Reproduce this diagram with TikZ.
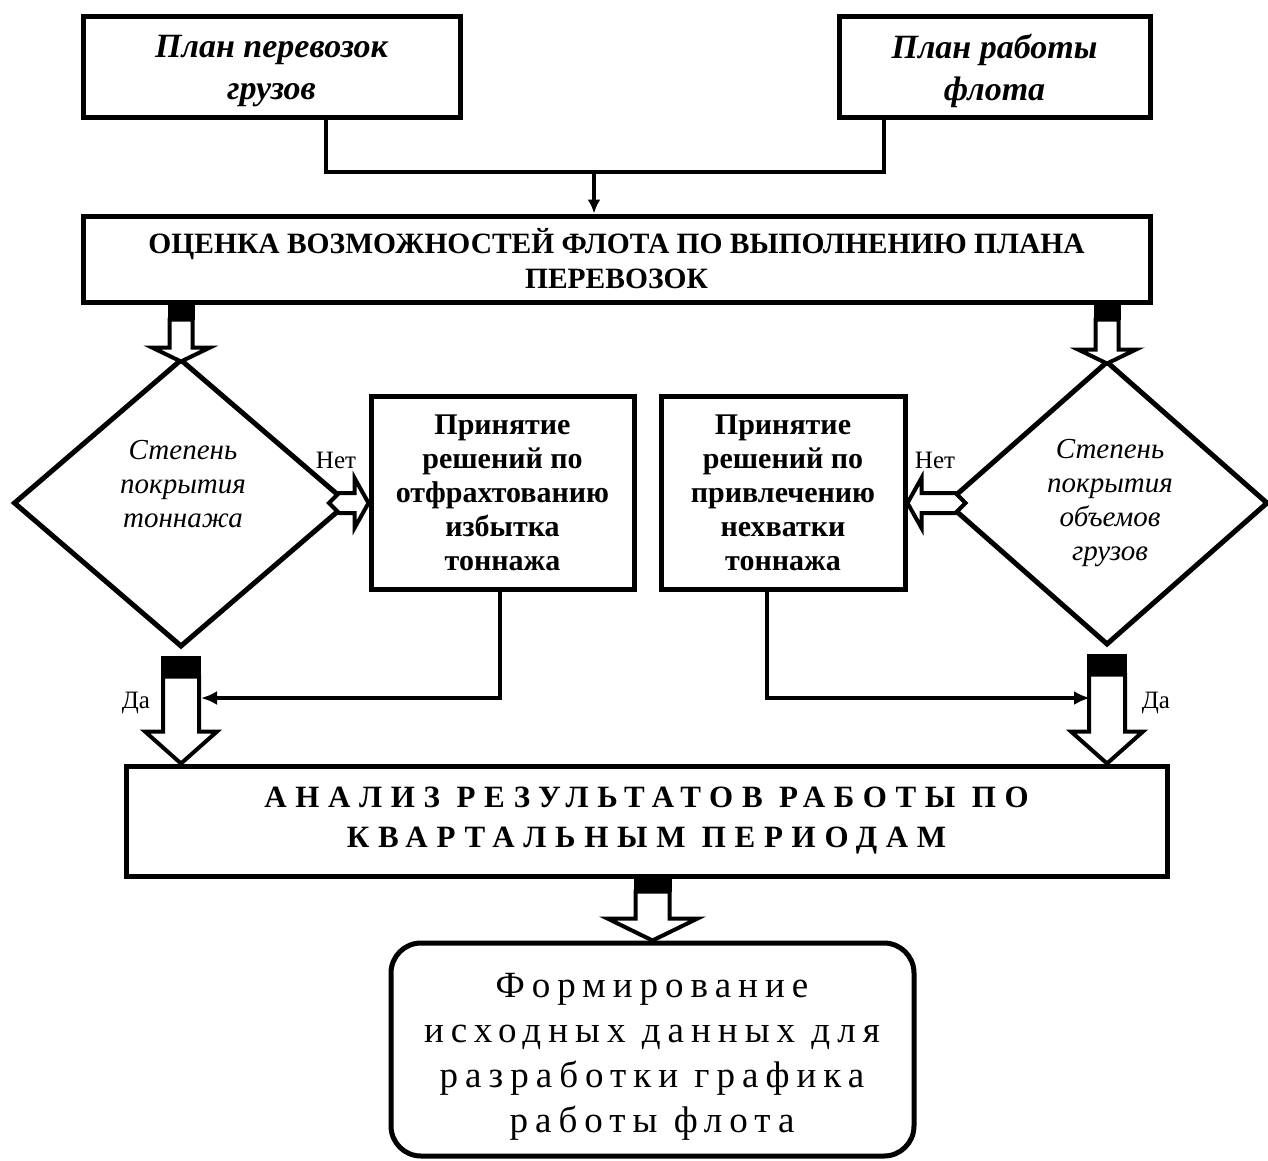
\documentclass[tikz,border=0pt]{standalone}
\usepackage{fontspec}
\setmainfont{Liberation Serif}
\usetikzlibrary{shapes.geometric,arrows.meta,calc}
\newcommand\VBarrow[6]{%
  \draw[barrow] let \p1=(#1), \p2=(#2) in
    ({\x1-#3pt},{\y1-#4pt}) -- ({\x1-#3pt},{\y2+#5pt}) -- ({\x1-#6pt},{\y2+#5pt}) -- (\x1,\y2)
    -- ({\x1+#6pt},{\y2+#5pt}) -- ({\x1+#3pt},{\y2+#5pt}) -- ({\x1+#3pt},{\y1-#4pt}) -- cycle;
  \fill[capfill] let \p1=(#1) in ({\x1-#3pt-2pt},\y1) rectangle ({\x1+#3pt+2pt},{\y1-#4pt});
}
\tikzset{
  box/.style={draw, line width=5pt, align=center, inner sep=0pt},
  dia/.style={draw, diamond, line width=5pt, inner sep=0pt},
  conn/.style={line width=3.5pt},
  barrow/.style={draw, fill=white, line width=4pt, line join=miter},
  capfill/.style={fill=black},
  lbl/.style={font=\fontsize{25}{27}\selectfont, inner sep=0pt},
  dtext/.style={align=center, inner sep=0pt, font=\fontsize{29}{34}\selectfont\itshape},
  btext/.style={align=center, inner sep=0pt},
  ptext/.style={btext, font=\fontsize{34}{42}\selectfont\bfseries\itshape},
}
\begin{document}
\begin{tikzpicture}[x=1pt,y=-1pt]
\useasboundingbox (0,0) rectangle (1268,1160);
% boxes
\node[box, minimum width=377pt, minimum height=101pt] (p1) at (271.5,66.5) {};
\node[ptext] (p1t) at (271.5,71) {План перевозок\\грузов};
\node[box, minimum width=311pt, minimum height=101pt] (p2) at (994.5,66.5) {};
\node[ptext] (p2t) at (994.5,71) {План работы\\флота};
\node[box, minimum width=1067pt, minimum height=86pt, font=\fontsize{29.5}{35}\selectfont\bfseries] (p3) at (616.5,259) {ОЦЕНКА ВОЗМОЖНОСТЕЙ ФЛОТА ПО ВЫПОЛНЕНИЮ ПЛАНА\\ПЕРЕВОЗОК};
\node[box, minimum width=263pt, minimum height=193pt, font=\fontsize{30}{34}\selectfont\bfseries] (p4) at (502.5,492.5) {Принятие\\решений по\\отфрахтованию\\избытка\\тоннажа};
\node[box, minimum width=244pt, minimum height=193pt, font=\fontsize{30}{34}\selectfont\bfseries] (p5) at (783,492.5) {Принятие\\решений по\\привлечению\\нехватки\\тоннажа};
\node[box, minimum width=1041pt, minimum height=110pt, font=\fontsize{31}{40}\selectfont\bfseries\addfontfeature{LetterSpace=28}] (p6) at (646.5,821) {АНАЛИЗ РЕЗУЛЬТАТОВ РАБОТЫ ПО\\КВАРТАЛЬНЫМ ПЕРИОДАМ};
\node[box, rounded corners=30pt, minimum width=523pt, minimum height=213pt] (p7) at (652.5,1049.5) {};
\node[btext, font=\fontsize{37}{45}\selectfont\addfontfeature{LetterSpace=19}] (p7t) at (652,1057) {Формирование\\исходных данных для\\разработки графика\\работы флота};
% diamonds
\node[dia, minimum width=335pt, minimum height=288pt] (d1) at (181,503) {};
\node[dia, minimum width=322pt, minimum height=284pt] (d2) at (1107,503) {};
\node[dtext] (d1t) at (183,484) {Степень\\покрытия\\тоннажа};
\node[dtext] (d2t) at (1110,503) {Степень\\покрытия\\объемов\\грузов};
% top connector
\coordinate (c1) at (326,172);
\coordinate (c2) at (884,172);
\coordinate (c0) at (594,172);
\draw[conn] (p1.south -| c1) -- (c1) -- (c2) -- (p2.south -| c2);
\draw[conn,-{Latex[length=14pt,width=13pt]}] (c0) -- (p3.north -| c0);
% block arrows
\VBarrow{p3.south -| d1.north}{[yshift=-5pt]d1.north}{11.5}{15}{14}{29}
\VBarrow{p3.south -| d2.north}{[yshift=-5pt]d2.north}{11.5}{15}{14}{29}
\VBarrow{[yshift=-6pt]d1.south}{p6.north -| d1.south}{18}{21}{32}{36}
\VBarrow{[yshift=-6pt]d2.south}{p6.north -| d2.south}{18}{21}{32}{36}
\VBarrow{p6.south -| p7.north}{p7.north}{17}{13}{22}{45}
\draw[barrow] let \p1=(d1.east), \p2=(p4.west |- d1.east) in
  ({\x1-12pt},{\y1+10pt}) -- ({\x2-14pt},{\y1+10pt}) -- ({\x2-14pt},{\y1+25pt}) -- (\x2,\y1)
  -- ({\x2-14pt},{\y1-25pt}) -- ({\x2-14pt},{\y1-10pt}) -- ({\x1-12pt},{\y1-10pt}) -- ({\x1-22pt},\y1) -- cycle;
\draw[barrow] let \p1=(d2.west), \p2=(p5.east |- d2.west) in
  ({\x1+12pt},{\y1+10pt}) -- ({\x2+14pt},{\y1+10pt}) -- ({\x2+14pt},{\y1+25pt}) -- (\x2,\y1)
  -- ({\x2+14pt},{\y1-25pt}) -- ({\x2+14pt},{\y1-10pt}) -- ({\x1+12pt},{\y1-10pt}) -- ({\x1+22pt},\y1) -- cycle;
% return connectors
\coordinate (k1) at (500,698);
\coordinate (k2) at (201,698);
\coordinate (k3) at (767,698);
\coordinate (k4) at (1090,698);
\draw[conn,-{Latex[length=16pt,width=14pt]}] (p4.south -| k1) -- (k1) -- (k2);
\draw[conn,-{Latex[length=16pt,width=14pt]}] (p5.south -| k3) -- (k3) -- (k4);
% labels
\node[lbl] (no1) at (336,460) {Нет};
\node[lbl] (no2) at (935,460) {Нет};
\node[lbl] (yes1) at (136,703) {Да};
\node[lbl] (yes2) at (1156,703) {Да};
\end{tikzpicture}
\end{document}
